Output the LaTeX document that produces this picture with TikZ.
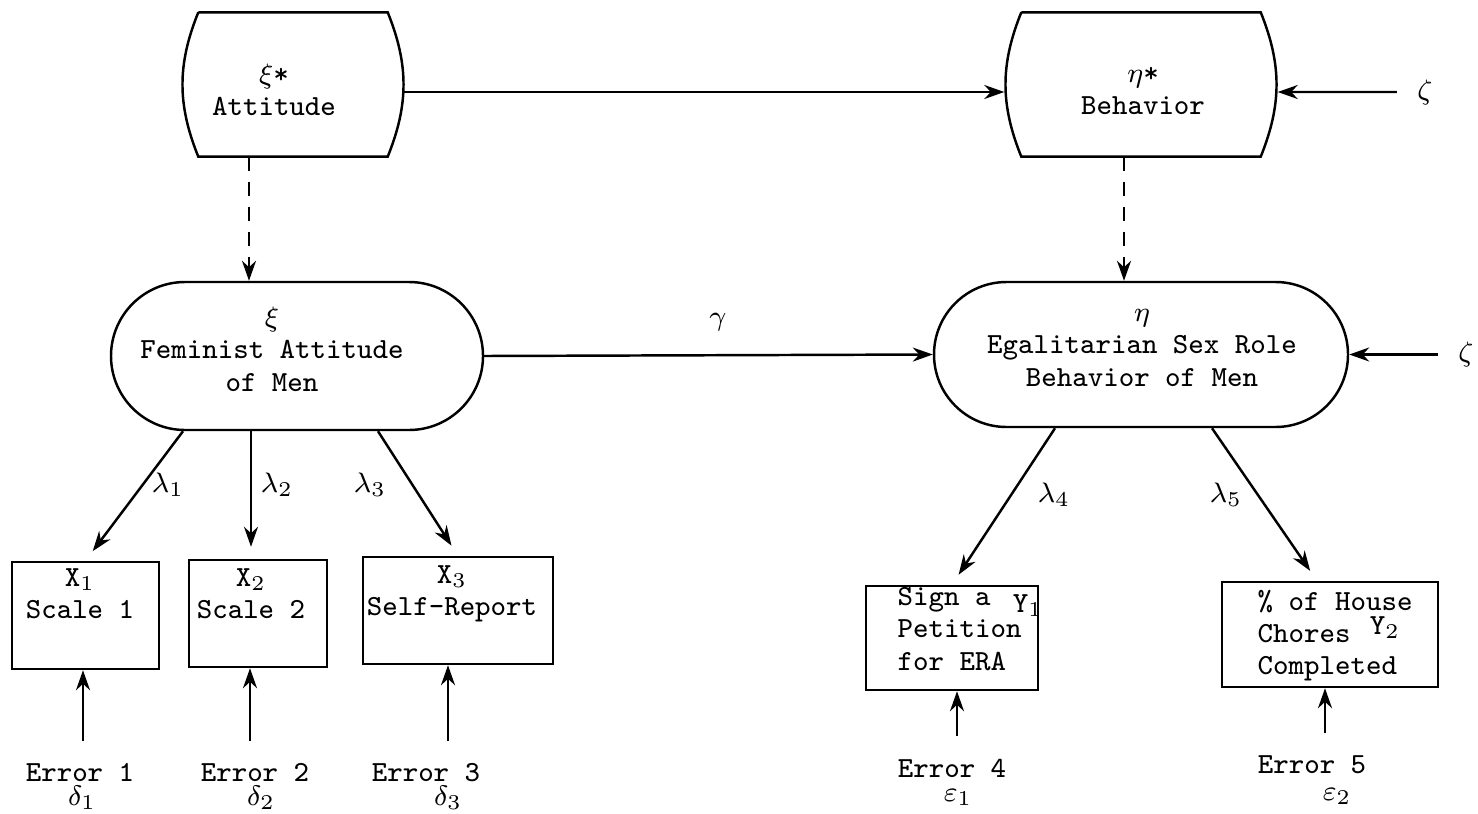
\documentclass[tikz,border=0pt]{standalone}
\usepackage{tikz}
\usetikzlibrary{arrows.meta,shapes.misc}
\def\barrel#1#2{\draw[line width=0.7pt] ([xshift=#2]#1.north west) -- ([xshift=-#2]#1.north east) to[bend left=22] ([xshift=-#2]#1.south east) -- ([xshift=#2]#1.south west) to[bend left=22] ([xshift=#2]#1.north west);}
\tikzset{
	txt/.style={font=\ttfamily\fontsize{8.3}{9.2}\selectfont, align=center, inner sep=0pt},
	boxnode/.style={draw, line width=0.7pt, inner sep=0pt},
	latent/.style={rounded rectangle, draw, line width=0.7pt, inner sep=0pt},
	zetatxt/.style={txt, inner xsep=2mm},
	arr/.style={-{Stealth[length=2mm,width=1.4mm]}, line width=0.7pt},
	dsh/.style={dash pattern=on 1.4mm off 1.1mm},
}

\begin{document}
\begin{tikzpicture}
			%%%%% START %%%%%
			\useasboundingbox (0,0) rectangle (14.78,8.13);
			
			% top row
			\node[minimum width=2.2cm, minimum height=1.43cm, inner sep=0pt] (att) at (2.93,7.285) {};
			\barrel{att}{1.6mm}
			\node[txt] (att-txt) at (2.74,7.235) {$\xi$*\\Attitude};
			
			\node[minimum width=2.72cm, minimum height=1.43cm, inner sep=0pt] (beh) at (11.41,7.285) {};
			\barrel{beh}{1.7mm}
			\node[txt] (beh-txt) at (11.43,7.22) {$\eta$*\\Behavior};
			
			\node[zetatxt] (zeta-top) at (14.25,7.21) {$\zeta$};
			
			\draw[arr] ([yshift=-0.75mm]att.east) -- ([yshift=-0.75mm]beh.west);
			\draw[arr] (zeta-top.west) -- ([yshift=-0.75mm]beh.east);
			
			% middle row
			\node[latent, minimum width=3.72cm, minimum height=1.48cm] (xi) at (2.97,4.57) {};
			\node[txt] (xi-txt) at (2.72,4.64) {$\xi$\\Feminist Attitude\\of Men};
			
			\node[latent, minimum width=4.14cm, minimum height=1.45cm] (eta) at (11.41,4.585) {};
			\node[txt] (eta-txt) at (11.42,4.65) {$\eta$\\Egalitarian Sex Role\\Behavior of Men};
			
			\node[zetatxt] (zeta-mid) at (14.66,4.585) {$\zeta$};
			\node[txt] (gamma) at (7.18,4.91) {$\gamma$};
			
			\draw[arr] (xi.east) -- (eta.west);
			\draw[arr] (zeta-mid.west) -- (eta.east);
			
			\coordinate (dl) at (2.49,0);
			\coordinate (dr) at (11.24,0);
			\draw[arr, dsh] (att.south -| dl) -- (xi.north -| dl);
			\draw[arr, dsh] (beh.south -| dr) -- (eta.north -| dr);
			
			% indicators
			\node[boxnode, minimum width=1.47cm, minimum height=1.07cm] (x1) at (0.855,1.975) {};
			\node[txt] (x1-txt) at (0.80,2.19) {X$_1$\\Scale 1};
			\node[boxnode, minimum width=1.38cm, minimum height=1.07cm] (x2) at (2.58,1.995) {};
			\node[txt] (x2-txt) at (2.51,2.19) {X$_2$\\Scale 2};
			\node[boxnode, minimum width=1.90cm, minimum height=1.07cm] (x3) at (4.58,2.025) {};
			\node[txt] (x3-txt) at (4.52,2.19) {X$_3$\\Self-Report};
			
			\node[boxnode, minimum width=1.72cm, minimum height=1.04cm] (y1) at (9.52,1.75) {};
			\node[txt, anchor=west, align=left] (y1-txt) at (8.97,1.84) {Sign a\\Petition\\for ERA};
			\node[txt] (y1-lab) at (10.28,2.07) {Y$_1$};
			\node[boxnode, minimum width=2.16cm, minimum height=1.05cm] (y2) at (13.30,1.785) {};
			\node[txt, anchor=base west] (y2-l1) at (12.57,2.03) {\% of House};
			\node[txt, anchor=base west] (y2-l2) at (12.57,1.71) {Chores};
			\node[txt, anchor=base west] (y2-l3) at (12.57,1.39) {Completed};
			\node[txt] (y2-lab) at (13.85,1.85) {Y$_2$};
			
			\draw[arr, shorten >=1.2mm] ([xshift=-11.4mm]xi.south) -- (x1.north);
			\draw[arr, shorten >=1.2mm] ([xshift=-4.6mm]xi.south) -- ([xshift=-4.6mm]xi.south |- x2.north);
			\draw[arr, shorten >=1.2mm] ([xshift=8.1mm]xi.south) -- (x3.north);
			\draw[arr, shorten >=1.2mm] ([xshift=-8.6mm]eta.south) -- (y1.north);
			\draw[arr, shorten >=1.2mm] ([xshift=7.1mm]eta.south) -- ([xshift=-1.3mm]y2.north);
			
			\node[txt] (lam1) at (1.68,3.28) {$\lambda_1$};
			\node[txt] (lam2) at (2.77,3.28) {$\lambda_2$};
			\node[txt] (lam3) at (3.70,3.28) {$\lambda_3$};
			\node[txt] (lam4) at (10.54,3.18) {$\lambda_4$};
			\node[txt] (lam5) at (12.26,3.18) {$\lambda_5$};
			
			% errors
			\node[txt] (e1) at (0.80,0.40) {Error 1};
			\node[txt] (e2) at (2.55,0.40) {Error 2};
			\node[txt] (e3) at (4.26,0.40) {Error 3};
			\node[txt] (e4) at (9.52,0.45) {Error 4};
			\node[txt] (e5) at (13.12,0.48) {Error 5};
			
			\node[txt] (d1) at (0.82,0.15) {$\delta_1$};
			\node[txt] (d2) at (2.61,0.15) {$\delta_2$};
			\node[txt] (d3) at (4.48,0.15) {$\delta_3$};
			\node[txt] (eps1) at (9.58,0.16) {$\varepsilon_1$};
			\node[txt] (eps2) at (13.37,0.17) {$\varepsilon_2$};
			
			\draw[arr, shorten <=2.2mm] ([xshift=0.3mm]e1.north) -- ([xshift=0.3mm]e1.north |- x1.south);
			\draw[arr, shorten <=2.2mm] ([xshift=-0.5mm]e2.north) -- ([xshift=-0.5mm]e2.north |- x2.south);
			\draw[arr, shorten <=2.2mm] ([xshift=2.2mm]e3.north) -- ([xshift=2.2mm]e3.north |- x3.south);
			\draw[arr, shorten <=2.2mm] ([xshift=0.5mm]e4.north) -- ([xshift=0.5mm]e4.north |- y1.south);
			\draw[arr, shorten <=2.2mm] ([xshift=1.3mm]e5.north) -- ([xshift=1.3mm]e5.north |- y2.south);
			
			%%%%% END %%%%%
\end{tikzpicture}
\end{document}
